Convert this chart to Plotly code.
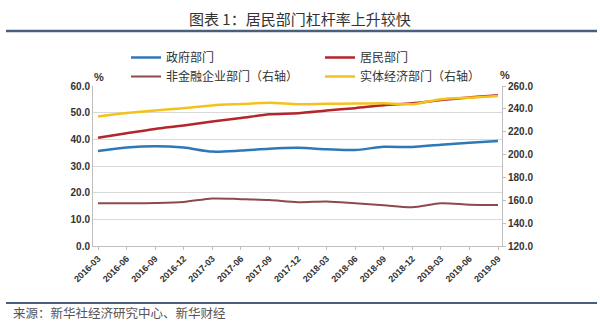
import plotly.graph_objects as go

quarters = ["2016-03", "2016-06", "2016-09", "2016-12", "2017-03", "2017-06", "2017-09",
            "2017-12", "2018-03", "2018-06", "2018-09", "2018-12", "2019-03", "2019-06", "2019-09"]
gov = [35.6, 36.9, 37.4, 36.9, 35.4, 35.8, 36.5, 36.8, 36.3, 36.0, 37.2, 37.1, 38.0, 38.7, 39.4]
household = [40.6, 42.3, 43.9, 45.2, 46.7, 48.0, 49.4, 49.8, 50.8, 51.7, 52.8, 53.5, 54.7, 55.7, 56.5]
nonfin_corp = [157.4, 157.4, 157.6, 158.5, 161.6, 161.0, 160.2, 158.3, 159.0, 157.4, 155.6, 153.9, 157.3, 156.2, 155.9]
real_economy = [233.4, 236.3, 238.6, 240.6, 243.0, 244.2, 245.3, 244.1, 244.4, 244.6, 245.0, 244.0, 248.4, 249.8, 251.2]

title_text = "图表 1：居民部门杠杆率上升较快"
source_text = "来源：新华社经济研究中心、新华财经"

CJK = "Noto Sans CJK SC"
NUM = "Liberation Sans"

fig = go.Figure()
fig.add_trace(go.Scatter(x=quarters, y=gov, name="政府部门", mode="lines", legend="legend",
                         line=dict(color="#2f78b8", width=2.5, shape="spline", smoothing=0.8)))
fig.add_trace(go.Scatter(x=quarters, y=household, name="居民部门", mode="lines", legend="legend2",
                         line=dict(color="#b3262b", width=2.5, shape="spline", smoothing=0.8)))
fig.add_trace(go.Scatter(x=quarters, y=nonfin_corp, name="非金融企业部门（右轴）", mode="lines", yaxis="y2",
                         legend="legend3",
                         line=dict(color="#8e4a4a", width=2, shape="spline", smoothing=0.8)))
fig.add_trace(go.Scatter(x=quarters, y=real_economy, name="实体经济部门（右轴）", mode="lines", yaxis="y2",
                         legend="legend4",
                         line=dict(color="#f4c21b", width=2.5, shape="spline", smoothing=0.8)))

W, H = 600, 322
x0, x1 = 93 / W, 502 / W
y0, y1 = 1 - 246 / H, 1 - 86 / H


def leg(px, py):
    return dict(x=px / W, xanchor="left", y=1 - py / H, yanchor="top", itemwidth=30,
                font=dict(family=CJK, size=12, color="#333333"),
                bgcolor="rgba(0,0,0,0)", borderwidth=0)


fig.update_layout(
    width=W, height=H,
    margin=dict(l=0, r=0, t=0, b=0),
    paper_bgcolor="white", plot_bgcolor="white",
    font=dict(family=CJK, color="#333333"),
    showlegend=True,
    legend=leg(126, 43),
    legend2=leg(320, 43),
    legend3=leg(126, 62),
    legend4=leg(320, 62),
    xaxis=dict(domain=[x0, x1], type="category", range=[-0.175, 14.14], automargin=False,
               showgrid=False, showline=True, linecolor="#bfbfbf", linewidth=1,
               ticks="outside", ticklen=3, tickcolor="#bfbfbf",
               tickangle=-45, tickfont=dict(family=NUM, size=9, color="#333333", weight="bold")),
    yaxis=dict(domain=[y0, y1], range=[0, 60], dtick=10, tickformat=".1f", automargin=False,
               showgrid=True, gridcolor="#d9d9d9", gridwidth=1, zeroline=False,
               showline=True, linecolor="#bfbfbf", linewidth=1,
               tickfont=dict(family=NUM, size=10, color="#333333", weight="bold")),
    yaxis2=dict(overlaying="y", side="right", range=[120, 260], dtick=20, tickformat=".1f",
                automargin=False,
                showgrid=False, zeroline=False, showline=True, linecolor="#bfbfbf", linewidth=1,
                ticks="outside", ticklen=3, tickcolor="#bfbfbf",
                tickfont=dict(family=NUM, size=10, color="#333333", weight="bold")),
)

fig.add_annotation(text=title_text, x=0.5, y=1 - 18 / H, xref="paper", yref="paper",
                   showarrow=False, xanchor="center", yanchor="middle",
                   font=dict(family=CJK, size=15, color="#333333"))
fig.add_shape(type="line", xref="paper", yref="paper", x0=6 / W, x1=597 / W,
              y0=1 - 31 / H, y1=1 - 31 / H, line=dict(color="#4a5f7c", width=2.5))
fig.add_shape(type="line", xref="paper", yref="paper", x0=6 / W, x1=597 / W,
              y0=1 - 303 / H, y1=1 - 303 / H, line=dict(color="#4a5f7c", width=2))
fig.add_annotation(text=source_text, x=11 / W, y=1 - 312 / H, xref="paper", yref="paper",
                   showarrow=False, xanchor="left", yanchor="middle",
                   font=dict(family=CJK, size=12.5, color="#555555"))
fig.add_annotation(text="%", x=92 / W, y=1 - 77 / H, xref="paper", yref="paper",
                   showarrow=False, xanchor="left", yanchor="middle",
                   font=dict(family=NUM, size=11, color="#333333", weight="bold"))
fig.add_annotation(text="%", x=498 / W, y=1 - 75 / H, xref="paper", yref="paper",
                   showarrow=False, xanchor="left", yanchor="middle",
                   font=dict(family=NUM, size=11, color="#333333", weight="bold"))

fig.write_html("out.html")
